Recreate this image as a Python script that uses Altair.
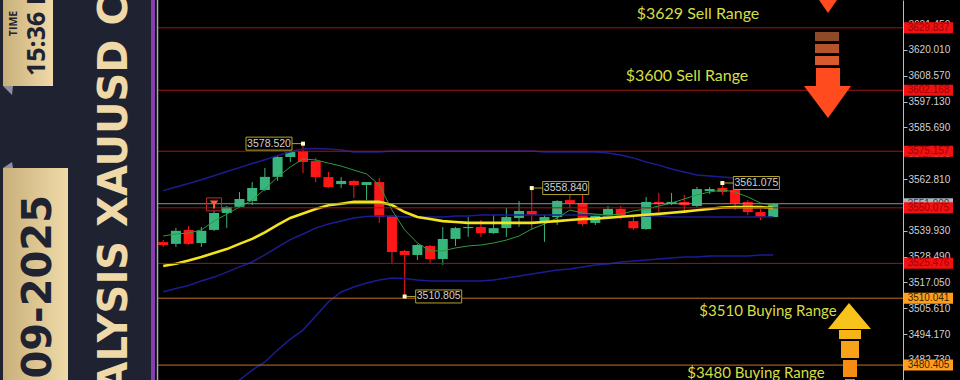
import altair as alt
import pandas as pd

# ---------------- data ----------------
opens = [3534.9, 3534.1, 3540.3, 3534.5, 3540.3, 3547.8, 3550.5, 3553.1, 3558.0, 3563.8,
         3572.6, 3575.3, 3570.8, 3563.7, 3560.6, 3562.0, 3560.2, 3561.5, 3546.5, 3531.0,
         3529.2, 3533.2, 3527.4, 3536.3, 3541.1, 3541.6, 3538.9, 3541.1, 3545.6, 3548.7,
         3543.4, 3546.0, 3553.5, 3552.2, 3543.4, 3546.0, 3549.6, 3544.2, 3540.7, 3552.7,
         3551.8, 3552.7, 3550.9, 3557.5, 3558.9, 3558.0, 3552.7, 3548.2, 3546.0]
highs = [3535.8, 3541.2, 3542.0, 3541.6, 3548.7, 3550.9, 3557.1, 3561.5, 3567.7, 3573.1,
         3575.3, 3578.52, 3572.2, 3566.0, 3563.7, 3562.4, 3561.5, 3563.3, 3546.9, 3531.4,
         3534.0, 3533.6, 3541.6, 3541.6, 3546.0, 3544.7, 3546.9, 3550.0, 3553.1, 3558.84,
         3546.9, 3553.5, 3555.8, 3555.8, 3547.3, 3550.9, 3550.9, 3546.5, 3554.9, 3556.7,
         3556.7, 3555.8, 3559.3, 3559.3, 3561.075, 3558.9, 3553.5, 3549.6, 3552.2]
lows = [3532.7, 3532.7, 3533.7, 3532.7, 3539.8, 3541.2, 3550.0, 3551.3, 3557.5, 3562.0,
        3570.4, 3565.5, 3561.5, 3558.9, 3558.9, 3554.4, 3553.5, 3543.4, 3525.6, 3510.805,
        3527.0, 3525.6, 3524.8, 3533.2, 3537.2, 3537.2, 3538.5, 3537.2, 3541.6, 3540.3,
        3535.0, 3542.5, 3550.0, 3542.0, 3542.5, 3545.6, 3545.1, 3540.3, 3540.3, 3548.2,
        3551.3, 3547.8, 3550.4, 3556.2, 3555.8, 3549.1, 3546.9, 3544.7, 3546.0]
closes = [3533.6, 3539.9, 3534.1, 3539.9, 3547.8, 3550.5, 3554.0, 3558.9, 3563.8, 3572.6,
          3574.8, 3570.4, 3563.7, 3559.3, 3562.0, 3560.2, 3561.5, 3546.0, 3530.5, 3529.2,
          3533.6, 3527.4, 3536.3, 3541.1, 3541.6, 3538.9, 3541.1, 3546.0, 3548.7, 3546.9,
          3546.0, 3553.1, 3552.2, 3542.9, 3546.5, 3549.6, 3546.0, 3541.0, 3552.7, 3551.8,
          3552.7, 3551.3, 3558.4, 3558.4, 3557.1, 3552.2, 3548.2, 3546.0, 3551.8]

ma_yellow = [3524.3, 3525.3, 3526.7, 3528.3, 3530.1, 3531.8, 3534.1, 3536.3, 3539.2, 3542.5,
             3545.6, 3547.6, 3549.6, 3551.2, 3551.9, 3552.7, 3552.7, 3552.7, 3551.3, 3548.2,
             3546.0, 3545.1, 3544.2, 3543.8, 3543.4, 3543.4, 3543.4, 3543.4, 3543.4, 3543.4,
             3543.8, 3544.2, 3544.7, 3545.1, 3545.3, 3545.7, 3546.1, 3546.6, 3547.0, 3547.4,
             3547.9, 3548.4, 3549.0, 3549.6, 3550.2, 3550.4, 3550.4, 3550.4, 3550.1]
ma_green = [3537.6, 3538.5, 3538.9, 3540.3, 3544.2, 3547.3, 3550.4, 3553.5, 3558.4, 3563.7,
            3568.2, 3571.7, 3571.3, 3569.9, 3568.6, 3566.8, 3565.1, 3560.2, 3549.1, 3540.3,
            3534.5, 3531.0, 3531.0, 3532.3, 3533.2, 3533.6, 3534.5, 3535.8, 3537.6, 3540.7,
            3542.9, 3545.6, 3549.1, 3547.8, 3547.3, 3546.9, 3547.3, 3548.7, 3549.6, 3550.9,
            3552.2, 3554.0, 3555.8, 3557.1, 3558.0, 3557.1, 3554.9, 3552.2, 3551.3]
band_upper = [3557.7, 3559.3, 3560.9, 3562.5, 3564.3, 3566.2, 3567.9, 3569.7, 3571.4, 3573.2,
              3574.9, 3576.2, 3576.4, 3576.2, 3575.7, 3574.8, 3574.8, 3574.8, 3575.3, 3575.3,
              3575.3, 3575.3, 3575.3, 3575.3, 3575.3, 3575.3, 3575.3, 3575.3, 3575.3, 3575.3,
              3574.8, 3574.8, 3574.8, 3574.8, 3574.8, 3574.4, 3573.5, 3572.2, 3570.4, 3569.0,
              3567.3, 3566.0, 3564.6, 3564.2, 3563.7, 3563.3, 3562.9, 3562.4, 3562.0]
band_mid = [3512.9, 3514.3, 3515.7, 3517.7, 3519.4, 3521.6, 3523.9, 3526.1, 3529.2, 3532.7,
            3536.0, 3538.5, 3541.1, 3542.9, 3544.2, 3545.6, 3546.2, 3546.5, 3546.5, 3546.0,
            3546.0, 3546.0, 3546.0, 3546.5, 3546.5, 3546.9, 3546.9, 3546.9, 3546.9, 3546.9,
            3546.9, 3546.9, 3546.9, 3546.9, 3546.9, 3546.5, 3546.5, 3546.5, 3546.5, 3546.5,
            3546.0, 3546.0, 3546.0, 3546.0, 3546.0, 3546.0, 3546.0, 3546.0, 3546.0]
band_lower = [None, None, None, None, None, 3470.3, 3473.8, 3478.2, 3481.8, 3487.1,
              3491.9, 3495.9, 3502.2, 3508.4, 3512.8, 3515.0, 3516.8, 3518.1, 3519.0, 3518.8,
              3518.1, 3517.7, 3517.7, 3517.7, 3517.7, 3517.7, 3518.1, 3519.0, 3519.9, 3520.8,
              3521.6, 3522.5, 3523.0, 3523.9, 3524.8, 3525.2, 3526.1, 3526.5, 3527.0, 3527.4,
              3527.9, 3528.3, 3528.3, 3528.7, 3528.7, 3528.7, 3528.7, 3529.2, 3529.2]

levels_red = [3629.837, 3602.168, 3575.157, 3550.075, 3525.476]
levels_orange = [3510.041, 3480.405]
bid_price = [3551.9]
axis_ticks = [3642.890, 3631.450, 3620.010, 3608.570, 3597.130, 3585.690, 3574.250,
              3562.810, 3551.370, 3539.930, 3528.490, 3517.050, 3505.610, 3494.170, 3482.730]

mark_idx_left = [11]
mark_price_left = [3578.520]
mark_idx_right = [19, 29, 44]
mark_price_right = [3510.805, 3558.840, 3561.075]

signal_idx = [4]
signal_price = [3551.6]

# ---------------- chart ----------------
N = len(opens)
idx = list(range(N))
candles = pd.DataFrame({"i": idx, "o": opens, "h": highs, "l": lows, "c": closes})
candles["dir"] = ["up" if c >= o else "down" for o, c in zip(opens, closes)]

xs = alt.Scale(domain=[-12.451, 57.821], nice=False, zero=False)
ys = alt.Scale(domain=[3473.80, 3642.16], nice=False, zero=False)
X = alt.X("i:Q", scale=xs, axis=None)

GREEN = "#38b57c"
RED = "#ff1616"
col = alt.Color("dir:N", scale=alt.Scale(domain=["up", "down"], range=[GREEN, RED]), legend=None)

yaxis = alt.Axis(orient="right", values=axis_ticks, format=".3f", title=None,
                 labelColor="#d2d2d2", labelFont="Liberation Sans", labelFontSize=10,
                 tickColor="#bdbdbd", tickSize=4, domainColor="#bdbdbd", grid=False,
                 labelPadding=1, labelOverlap=False, labelBound=False)


def Yq(field):
    return alt.Y(field, scale=ys, axis=yaxis)


layers = []

wicks = alt.Chart(candles).mark_rule(strokeWidth=1).encode(
    x=X, y=Yq("l:Q"), y2="h:Q", color=col)
bodies = alt.Chart(candles).mark_bar(size=10).encode(
    x=X, y=Yq("o:Q"), y2="c:Q", color=col)
layers += [wicks, bodies]


def line_layer(values, color, width):
    df = pd.DataFrame({"i": idx, "v": values}).dropna()
    return alt.Chart(df).mark_line(color=color, strokeWidth=width, clip=True).encode(
        x=X, y=Yq("v:Q"))


layers += [
    line_layer(band_upper, "#1c1c92", 1.5),
    line_layer(band_mid, "#1c1c92", 1.5),
    line_layer(band_lower, "#1c1c92", 1.5),
    line_layer(ma_green, "#2f9a3c", 1),
    line_layer(ma_yellow, "#f3e31e", 2.6),
]


def level_layer(values, color):
    df = pd.DataFrame({"p": values})
    return alt.Chart(df).mark_rule(color=color, strokeWidth=1).encode(
        y=Yq("p:Q"), x=alt.value(157), x2=alt.value(903))


layers += [level_layer(bid_price, "#8a939c"),
           level_layer(levels_red, "#a31414"),
           level_layer(levels_orange, "#c2701e")]


# price tags on the axis
def tag_layers(values, bg, fg):
    df = pd.DataFrame({"p": values})
    df["label"] = [f"{v:.3f}" for v in values]
    base = alt.Chart(df).transform_calculate(lo="datum.p - 2.44", hi="datum.p + 2.44")
    r = base.mark_rect(color=bg).encode(y=Yq("lo:Q"), y2="hi:Q",
                                        x=alt.value(904), x2=alt.value(953))
    t = alt.Chart(df).mark_text(color=fg, font="Liberation Sans", fontSize=10,
                                align="center", baseline="middle").encode(
        y=Yq("p:Q"), x=alt.value(928.5), text="label:N")
    return [r, t]


layers += tag_layers(bid_price, "#aab6c2", "#3a3a3a")
layers += tag_layers(levels_red, "#f01212", "#a00000")
layers += tag_layers(levels_orange, "#ff9e1c", "#3c2400")


# high / low markers
def marker_layers(ii, pp, side):
    df = pd.DataFrame({"i": ii, "p": pp})
    df["label"] = [f"{v:.3f}" for v in pp]
    if side == "right":
        path = "M11,-6.5L57,-6.5L57,6.5L11,6.5Z M2,0L11,0"
        dx = 34
    else:
        path = "M-57,-6.5L-11,-6.5L-11,6.5L-57,6.5Z M-2,0L-11,0"
        dx = -34
    Y = Yq("p:Q")
    box = alt.Chart(df).mark_point(shape=path, size=4, filled=True, fill="#000000",
                                   stroke="#b3a22c", strokeWidth=1, opacity=1).encode(x=X, y=Y)
    txt = alt.Chart(df).mark_text(dx=dx, color="#d0d0d0", font="Liberation Sans", fontSize=10.5,
                                  align="center", baseline="middle").encode(x=X, y=Y, text="label:N")
    dot = alt.Chart(df).mark_square(size=16, color="#ffffc8", opacity=1).encode(x=X, y=Y)
    return [box, txt, dot]


layers += marker_layers(mark_idx_left, mark_price_left, "left")
layers += marker_layers(mark_idx_right, mark_price_right, "right")

sig = pd.DataFrame({"i": signal_idx, "p": signal_price})
layers += [
    alt.Chart(sig).mark_point(shape="M-7.5,-6.5L7.5,-6.5L7.5,6.5L-7.5,6.5Z", size=4, filled=False,
                              stroke="#b83030", strokeWidth=1, opacity=1).encode(x=X, y=Yq("p:Q")),
    alt.Chart(sig).mark_point(shape="M-4.5,-4L4.5,-4L0,1Z M-1,0L1,0L1,4L-1,4Z", size=4, filled=True,
                              color="#ff5a3c", opacity=1).encode(x=X, y=Yq("p:Q")),
]

# ---------------- decorations (pixel placed) ----------------
one = pd.DataFrame({"k": [0]})


def prect(x1, x2, y1, y2, color):
    return alt.Chart(one).mark_rect(color=color).encode(
        x=alt.value(x1), x2=alt.value(x2), y=alt.value(y1), y2=alt.value(y2))


def pshape(path, x, y, color):
    return alt.Chart(one).mark_point(shape=path, size=4, filled=True, color=color,
                                     opacity=1).encode(x=alt.value(x), y=alt.value(y))


def ptext(txt, x, y, **kw):
    return alt.Chart(one).mark_text(text=txt, **kw).encode(x=alt.value(x), y=alt.value(y))


gold = alt.Gradient(gradient="linear", x1=0, x2=1, y1=0, y2=0,
                    stops=[alt.GradientStop(color="#c9b07b", offset=0),
                           alt.GradientStop(color="#efdaa8", offset=1)])

# sell / buy annotation texts
TXT = "#d3df44"
layers += [
    ptext("$3629 Sell Range", 698, 14, font="Lato", fontSize=16, color=TXT, align="center", baseline="middle"),
    ptext("$3600 Sell Range", 687, 76, font="Lato", fontSize=16, color=TXT, align="center", baseline="middle"),
    ptext("$3510 Buying Range", 768, 311, font="Lato", fontSize=15, color=TXT, align="center", baseline="middle"),
    ptext("$3480 Buying Range", 756, 373, font="Lato", fontSize=15, color=TXT, align="center", baseline="middle"),
]

# down arrows (sell)
layers += [
    pshape("M-11,-3L11,-3L0,13Z", 828, 0, "#ff4b1e"),
    prect(815, 839, 32, 41, "#8c4a28"),
    prect(815, 839, 44, 53, "#b5532c"),
    prect(815, 839, 56, 65, "#d85a2e"),
    pshape("M-12,-25L12,-25L12,-7L23,-7L0,25L-24,-7L-12,-7Z", 828, 93, "#ff4b1e"),
]
# up arrow (buy)
layers += [
    pshape("M0,-26L22,0L-21,0Z", 849, 329, "#f8c41c"),
    prect(839, 861, 330, 339, "#f7b416"),
    prect(841, 859, 341, 358, "#f8a21a"),
    prect(843, 857, 360, 377, "#f78c14"),
    prect(845, 855, 379, 380, "#f57a10"),
]

# left banner
layers += [
    prect(151, 157, 0, 380, "#000000"),
    prect(0, 151, 0, 380, "#1f2331"),
    prect(151, 155, 0, 380, "#8a3cb4"),
    alt.Chart(one).mark_rule(color="#a9adb2", strokeWidth=1.5).encode(
        x=alt.value(157.5), y=alt.value(0), y2=alt.value(380)),
    alt.Chart(one).mark_rect(color=gold).encode(x=alt.value(3), x2=alt.value(53),
                                                y=alt.value(0), y2=alt.value(86)),
    alt.Chart(one).mark_rect(color=gold).encode(x=alt.value(3), x2=alt.value(68),
                                                y=alt.value(168), y2=alt.value(380)),
    pshape("M0,0L10,0L9,-6Z", 3, 168, "#8d8fa0"),
    pshape("M0,0L10,0L9,9Z", 3, 86, "#8d8fa0"),
    ptext("ANALYSIS XAUUSD CHART", 127, 457, angle=270, align="left", baseline="alphabetic",
          font="DejaVu Sans", fontWeight="bold", fontSize=40, color="#efd9a9"),
    ptext("05-09-2025", 51, 195, angle=270, align="right", baseline="alphabetic",
          font="DejaVu Sans", fontWeight="bold", fontSize=40, color="#1f2331"),
    ptext("15:36 HRS", 45, 76, angle=270, align="left", baseline="alphabetic",
          font="Open Sans", fontWeight="bold", fontSize=25, color="#1f2331"),
    ptext("TIME", 13.5, 23.5, angle=270, align="center", baseline="middle",
          font="Open Sans", fontWeight="bold", fontSize=10.5, color="#1f2331"),
]

chart = alt.layer(*layers).properties(
    width=903, height=380,
    padding={"left": 0, "right": 57, "top": 0, "bottom": 0},
    autosize="none", background="#000000",
).configure_view(strokeWidth=0)

chart.save("out.html", embed_options={"renderer": "svg", "actions": False})
